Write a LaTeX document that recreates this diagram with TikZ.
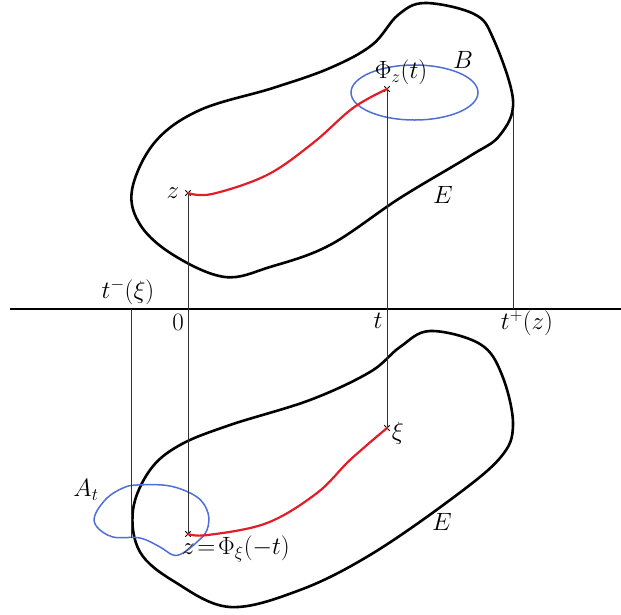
\documentclass[tikz,border=0pt]{standalone}
\usepackage{fix-cm}
\usepackage{amsmath,amssymb}
\usepackage{xcolor}
\usepackage{tikz}
\usetikzlibrary{positioning,shapes.misc,calc}

\definecolor{flowred}{RGB}{225,30,40}
\definecolor{setblue}{RGB}{80,110,215}

\begin{document}
\begin{tikzpicture}[
    x=1pt, y=-1pt,
    blob/.style={draw=black, line width=2.6pt, line join=round},
    axisline/.style={draw=black, line width=2.8pt},
    proj/.style={draw=black!80, line width=0.7pt},
    flow/.style={draw=flowred, line width=2.2pt, line cap=round},
    region/.style={draw=setblue, line width=1.5pt},
    pt/.style={cross out, draw=black, minimum size=4.5pt, inner sep=0pt, line width=0.9pt},
    lbl/.style={font=\fontsize{25}{30}\selectfont, inner sep=1pt}
  ]
  \useasboundingbox (0,0) rectangle (621,614);

  % Upper set E
  \draw[blob] plot[smooth cycle, tension=0.6] coordinates {
    (132,190) (155,142) (200,110) (273,88) (330,68) (372,45) (398,15)
    (425,3) (474,14) (493,38) (513,100) (500,135) (470,156) (400,198)
    (330,245) (270,267) (225,277) (175,256) (141,226)};
  \node[lbl] at (443,195) {$E$};

  % Lower set E
  \draw[blob] plot[smooth cycle, tension=0.6] coordinates {
    (430,331) (400,347) (370,372) (310,400) (230,425) (180,445) (150,470)
    (133,510) (140,552) (175,582) (230,607) (300,590) (370,555) (450,500)
    (500,458) (513,425) (502,375) (480,344)};
  \node[lbl] at (442,522) {$E$};

  % Time axis
  \coordinate (axL) at (10,309);
  \coordinate (axR) at (621,309);
  \draw[axisline] (axL) -- (axR);

  % Points
  \node[pt] (z1) at (188,193) {};
  \node[pt] (phi) at (387,89) {};
  \node[pt] (z2) at (188,534) {};
  \node[pt] (xi) at (387,428) {};

  % Ball B and set A_t
  \draw[region] (414.5,92.5) ellipse [x radius=63.5pt, y radius=27.5pt];
  \node[lbl] at (463,60) {$B$};
  \draw[region] plot[smooth cycle, tension=0.6] coordinates {
    (137,485) (170,486) (197,497) (208,513) (207,530) (197,542) (183,553)
    (173,555) (160,547) (140,538) (113,537) (97,527) (95,515) (107,498)
    (123,488)};
  \node[lbl] at (86,490) {$A_t$};

  % Projections onto the axis
  \coordinate (tm) at (131,309);
  \coordinate (tmend) at (131,538);
  \coordinate (tp) at (513,309);
  \coordinate (tptop) at (513,112);
  \draw[proj] (z1.center) -- (z2.center);
  \draw[proj] (phi.center) -- (xi.center);
  \draw[proj] (tm) -- (tmend);
  \draw[proj] (tptop) -- (tp);

  % Trajectories
  \draw[flow] plot[smooth, tension=0.6] coordinates {
    (188,193) (212,194) (267,175) (313,143) (353,108) (387,89)};
  \draw[flow] plot[smooth, tension=0.6] coordinates {
    (188,534) (208,535) (267,523) (317,493) (350,460) (387,428)};

  % Labels
  \node[lbl, left=5pt of z1] {$z$};
  \node[lbl] at (401,72) {$\Phi_z(t)$};
  \node[lbl, right=1pt of xi, yshift=-5pt] {$\xi$};
  \node[lbl, anchor=west] at (181,549) {$z\!=\!\Phi_\xi(-t)$};
  \node[lbl] at (128,292) {$t^-(\xi)$};
  \node[lbl] at (178,322) {$0$};
  \node[lbl] at (378,321) {$t$};
  \node[lbl] at (527,323) {$t^+(z)$};
\end{tikzpicture}
\end{document}
